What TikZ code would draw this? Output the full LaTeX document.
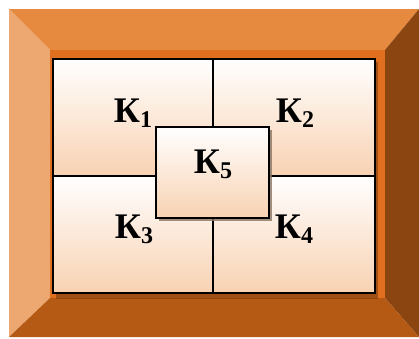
\documentclass[tikz,border=0pt]{standalone}
\usepackage{fontspec}
\setmainfont{Liberation Serif}
\definecolor{btop}{HTML}{E58A3E}
\definecolor{bleft}{HTML}{ECA870}
\definecolor{bright}{HTML}{8B4510}
\definecolor{bbottom}{HTML}{B55A15}
\definecolor{binner}{HTML}{E07020}
\definecolor{peach}{HTML}{F8D2B2}
\tikzset{
  cell/.style={draw=black, line width=1.3pt, top color=white, bottom color=peach},
  lbl/.style={anchor=base, inner sep=0pt, font=\fontsize{36}{40}\selectfont\bfseries},
}
\newcommand{\kk}[1]{К\raisebox{-5pt}{\fontsize{24}{26}\selectfont #1}}
\begin{document}
\begin{tikzpicture}[x=1pt,y=-1pt]
\useasboundingbox (0,0) rectangle (419,338);
\fill[white] (0,0) rectangle (419,338);
% bevel frame
\fill[btop] (9,9) -- (419,9) -- (385,50) -- (50,50) -- cycle;
\fill[bleft] (9,9) -- (50,50) -- (50,298) -- (9,337) -- cycle;
\fill[bright] (419,9) -- (419,337) -- (385,298) -- (385,50) -- cycle;
\fill[bbottom] (9,337) -- (50,298) -- (385,298) -- (419,337) -- cycle;
\fill[binner] (50,50) rectangle (385,298);
% shadow of grid
\fill[black!35!bbottom, opacity=0.6] (56,62) rectangle (378,299);
% quadrants
\path[cell] (53,59) rectangle (213,176);
\path[cell] (213,59) rectangle (375,176);
\path[cell] (53,176) rectangle (213,293);
\path[cell] (213,176) rectangle (375,293);
% center shadow and box
\fill[black!45!peach, opacity=0.8] (159,130) rectangle (272,221);
\path[cell] (156,127) rectangle (269,218);
% labels
\node[lbl] (k1) at (133,122) {\kk{1}};
\node[lbl] (k2) at (295,122) {\kk{2}};
\node[lbl] (k5) at (213,173) {\kk{5}};
\node[lbl] (k3) at (134,238) {\kk{3}};
\node[lbl] (k4) at (294,238) {\kk{4}};
\end{tikzpicture}
\end{document}
